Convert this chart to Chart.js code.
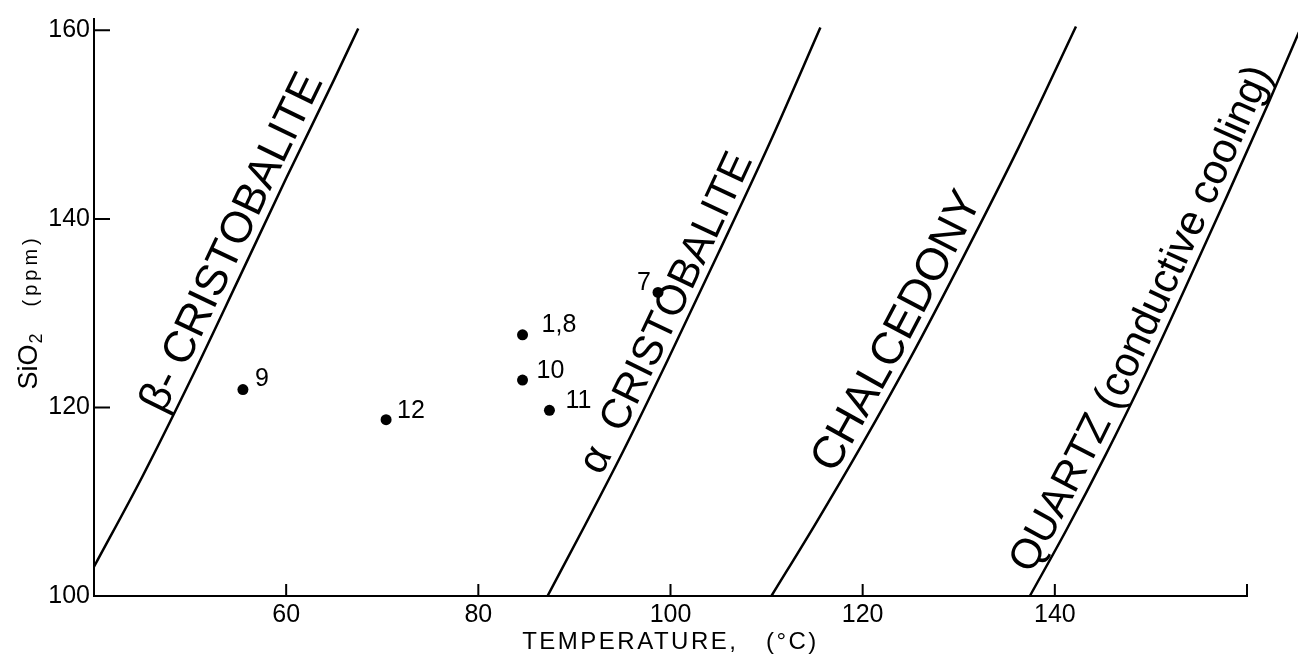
<!DOCTYPE html>
<html>
<head>
<meta charset="utf-8">
<script src="https://cdn.jsdelivr.net/npm/chart.js@4.4.1/dist/chart.umd.min.js"></script>
<style>
  html, body { margin: 0; padding: 0; background: #fff; }
  #wrap { width: 1298px; height: 662px; }
</style>
</head>
<body>
<div id="wrap"><canvas id="chart" width="1298" height="662"></canvas></div>
<script>
// -------- DATA --------
const xTicks = [60, 80, 100, 120, 140];
const yTicks = [100, 120, 140, 160];

// curvas de solubilidad: temperatura (°C) y SiO2 (ppm)
const betaT = [40, 45, 50, 55, 60, 65, 67.5];
const betaS = [103.1, 112.6, 122.8, 133.5, 144.3, 154.8, 160.2];
const alphaT = [87.2, 91.1, 95.1, 99.7, 105, 110.3, 115.6];
const alphaS = [100, 107.5, 115.4, 125, 136.4, 148, 160.3];
const chalcT = [110.5, 115, 119.9, 125.1, 130.5, 136.2, 142.2];
const chalcS = [100, 107.5, 116, 125.5, 136, 147.5, 160.4];
const quartzT = [137.4, 141.2, 145.3, 149.4, 153.5, 157.6, 162.2, 165.4];
const quartzS = [100, 107, 115, 123.5, 132.5, 141.7, 152.2, 159.8];

const curveNames = ["β- CRISTOBALITE", "α  CRISTOBALITE", "CHALCEDONY", "QUARTZ (conductive cooling)"];

// muestras
const sampleNames = ["9", "12", "1,8", "10", "11", "7"];
const sampleT = [55.5, 70.4, 84.6, 84.6, 87.4, 98.7];
const sampleS = [121.9, 118.7, 127.7, 122.9, 119.7, 132.2];

// -------- ESTILO --------
const FONT = "'Liberation Sans', Arial, sans-serif";
// donde empieza cada rotulo sobre su curva (valor de SiO2), separacion y tamaño
const curveLabelPos = [
  { start: 118.8, offset: 9, size: 44 },
  { start: 112.3, offset: 8, size: 42 },
  { start: 112.4, offset: 9, size: 45 },
  { start: 101.8, offset: 9, size: 42 }
];
const sampleLabelPos = [
  { dx: 12, dy: -10, align: "left" },
  { dx: 11, dy: -9, align: "left" },
  { dx: 19, dy: -10, align: "left" },
  { dx: 14, dy: -9, align: "left" },
  { dx: 16, dy: -9, align: "left" },
  { dx: -7, dy: -9, align: "right" }
];

function toPoints(xs, ys) { return xs.map((x, i) => ({ x: x, y: ys[i] })); }

function curve(label, xs, ys, extra) {
  return Object.assign({
    type: "line", label: label, data: toPoints(xs, ys),
    indexAxis: "y", cubicInterpolationMode: "monotone",
    borderColor: "#000", borderWidth: 2.5, pointRadius: 0, fill: false
  }, extra || {});
}

// -------- PLUGINS --------
function pointAt(poly, s) {
  let i = 1;
  while (i < poly.length - 1) {
    const seg = Math.hypot(poly[i].x - poly[i-1].x, poly[i].y - poly[i-1].y);
    if (s <= seg) break;
    s -= seg; i++;
  }
  const a = poly[i-1], b = poly[i];
  const seg = Math.hypot(b.x - a.x, b.y - a.y);
  const t = s / seg;
  return { x: a.x + (b.x - a.x) * t, y: a.y + (b.y - a.y) * t };
}

function arcAtY(poly, py) {
  let s = 0;
  for (let i = 1; i < poly.length; i++) {
    const a = poly[i-1], b = poly[i];
    const seg = Math.hypot(b.x - a.x, b.y - a.y);
    if ((a.y - py) * (b.y - py) <= 0) return s + seg * (a.y - py) / (a.y - b.y);
    s += seg;
  }
  return 0;
}

const curveLabels = {
  id: "curveLabels",
  afterDatasetsDraw(chart) {
    const ctx = chart.ctx;
    ctx.save();
    ctx.fillStyle = "#000";
    ctx.textBaseline = "alphabetic";
    curveNames.forEach((txt, i) => {
      const pos = curveLabelPos[i];
      ctx.font = pos.size + "px " + FONT;
      const poly = chart.getDatasetMeta(i).data.map(p => ({ x: p.x, y: p.y }));
      let s = arcAtY(poly, chart.scales.y.getPixelForValue(pos.start));
      for (const ch of txt) {
        const w = ctx.measureText(ch).width;
        const a = pointAt(poly, s + w / 2 - 12);
        const b = pointAt(poly, s + w / 2 + 12);
        const m = pointAt(poly, s + w / 2);
        ctx.save();
        ctx.translate(m.x, m.y);
        ctx.rotate(Math.atan2(b.y - a.y, b.x - a.x));
        ctx.fillText(ch, -w / 2, -pos.offset);
        ctx.restore();
        s += w;
      }
    });
    ctx.restore();
  }
};

const sampleLabels = {
  id: "sampleLabels",
  afterDatasetsDraw(chart) {
    const ctx = chart.ctx;
    const meta = chart.getDatasetMeta(4);
    ctx.save();
    ctx.fillStyle = "#000";
    ctx.font = "25px " + FONT;
    ctx.textBaseline = "middle";
    meta.data.forEach((p, i) => {
      const o = sampleLabelPos[i];
      ctx.textAlign = o.align;
      ctx.fillText(sampleNames[i], p.x + o.dx, p.y + o.dy);
    });
    ctx.restore();
  }
};

// ticks hacia adentro y titulos de los ejes
const axisDeco = {
  id: "axisDeco",
  afterDraw(chart) {
    const ctx = chart.ctx;
    const x = chart.scales.x, y = chart.scales.y;
    const y0 = y.getPixelForValue(100);
    const x0 = x.getPixelForValue(x.min);
    ctx.save();
    ctx.strokeStyle = "#000";
    ctx.lineWidth = 2;
    ctx.beginPath();
    xTicks.concat([x.max]).forEach(v => {
      const px = x.getPixelForValue(v);
      ctx.moveTo(px, y0); ctx.lineTo(px, y0 - 12);
    });
    yTicks.slice(1).forEach(v => {
      const py = y.getPixelForValue(v);
      ctx.moveTo(x0, py); ctx.lineTo(x0 + 16, py);
    });
    ctx.stroke();

    ctx.fillStyle = "#000";
    // TEMPERATURE, (°C)
    ctx.save();
    ctx.font = "24px " + FONT;
    ctx.letterSpacing = "2.5px";
    ctx.textAlign = "center";
    ctx.textBaseline = "middle";
    ctx.fillText("TEMPERATURE,   (°C)", (chart.chartArea.left + chart.chartArea.right) / 2, y0 + 46);
    ctx.restore();

    // SiO2 (ppm)
    ctx.textBaseline = "alphabetic";
    ctx.translate(x0 - 57, y.getPixelForValue(121.9));
    ctx.rotate(-Math.PI / 2);
    ctx.font = "27px " + FONT;
    ctx.fillText("SiO", 0, 0);
    let w = ctx.measureText("SiO").width;
    ctx.font = "18px " + FONT;
    ctx.fillText("2", w + 1, 5);
    w += ctx.measureText("2").width + 28;
    ctx.font = "20px " + FONT;
    for (const ch of "(ppm)") {
      ctx.fillText(ch, w, 0);
      w += ctx.measureText(ch).width + 4;
    }
    ctx.restore();
  }
};

// -------- CHART --------
const chart = new Chart(document.getElementById("chart"), {
  type: "scatter",
  data: {
    datasets: [
      curve(curveNames[0], betaT, betaS),
      curve(curveNames[1], alphaT, alphaS),
      curve(curveNames[2], chalcT, chalcS),
      curve(curveNames[3], quartzT, quartzS, { clip: false }),
      {
        type: "scatter", label: "muestras", data: toPoints(sampleT, sampleS),
        pointRadius: 5.5, backgroundColor: "#000", borderWidth: 0
      }
    ]
  },
  options: {
    responsive: false,
    animation: false,
    layout: { padding: { top: 15, right: 51, left: 0, bottom: 0 } },
    plugins: { legend: { display: false }, tooltip: { enabled: false } },
    scales: {
      x: {
        type: "linear", min: 40, max: 160,
        afterBuildTicks: s => { s.ticks = xTicks.map(v => ({ value: v })); },
        afterFit: s => { s.height = 66; },
        grid: { display: false, drawTicks: false },
        border: { display: true, color: "#000", width: 2 },
        ticks: { color: "#000", padding: 4, font: { family: FONT, size: 25 } }
      },
      y: {
        type: "linear", min: 100, max: 161.2,
        afterBuildTicks: s => { s.ticks = yTicks.map(v => ({ value: v })); },
        afterFit: s => { s.width = 94; },
        grid: { display: false, drawTicks: false },
        border: { display: true, color: "#000", width: 2 },
        ticks: { color: "#000", padding: 4, font: { family: FONT, size: 25 } }
      }
    }
  },
  plugins: [curveLabels, sampleLabels, axisDeco]
});
</script>
</body>
</html>
